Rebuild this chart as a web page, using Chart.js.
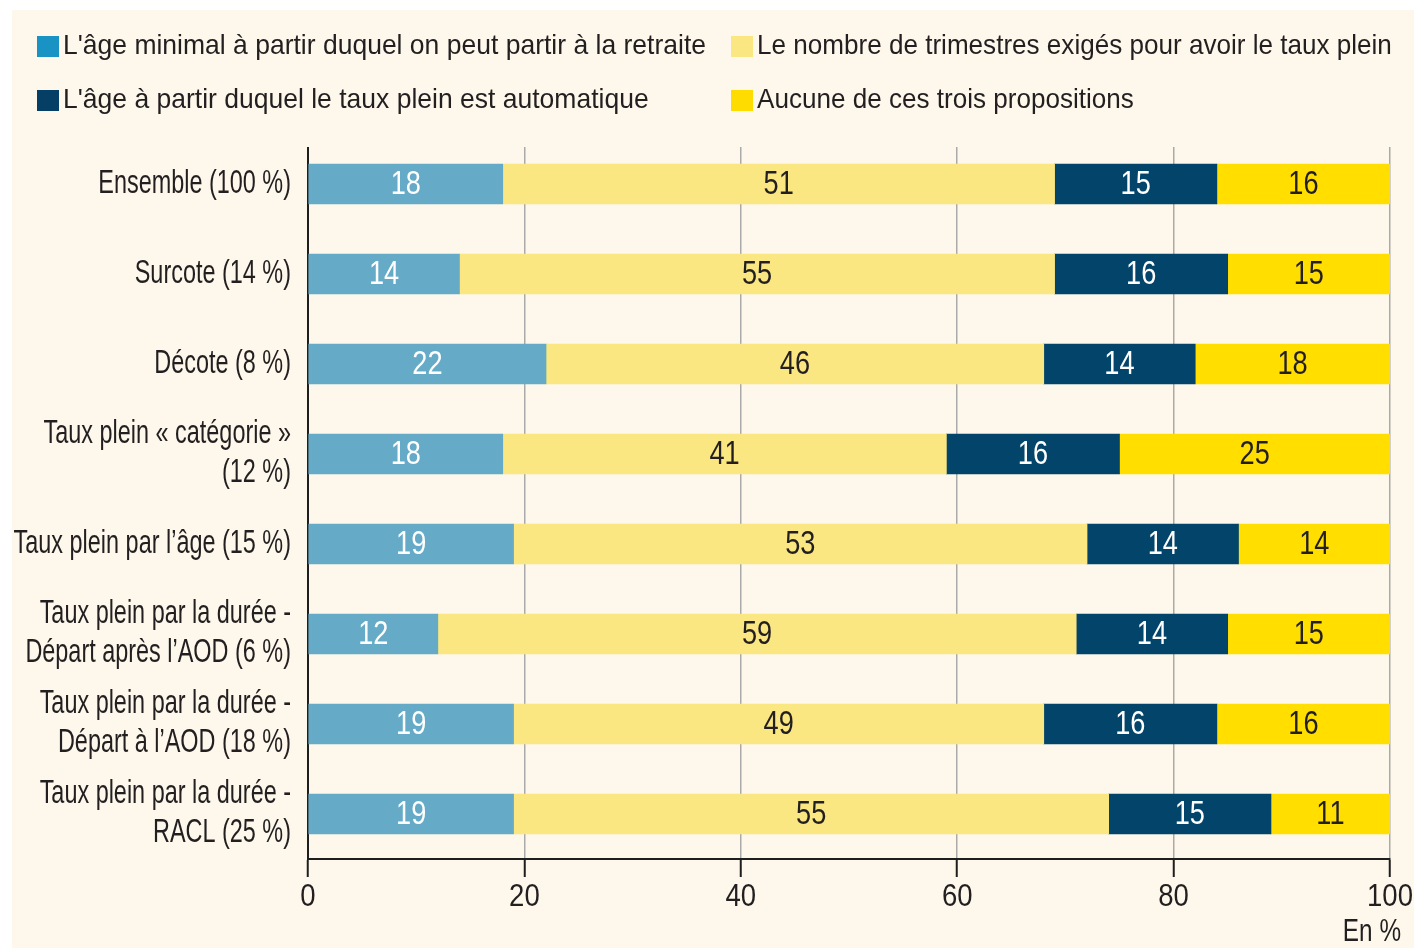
<!DOCTYPE html>
<html><head><meta charset="utf-8">
<script src="https://cdn.jsdelivr.net/npm/chart.js@4.4.1/dist/chart.umd.min.js"></script>
<style>html,body{margin:0;padding:0;background:#fff;}#wrap{width:1414px;height:948px;position:relative;}</style>
</head><body><div id="wrap"><canvas id="c" width="1414" height="948"></canvas></div>
<script>
const categories = [
  ["Ensemble (100 %)"],
  ["Surcote (14 %)"],
  ["Décote (8 %)"],
  ["Taux plein « catégorie »", "(12 %)"],
  ["Taux plein par l’âge (15 %)"],
  ["Taux plein par la durée -", "Départ après l’AOD (6 %)"],
  ["Taux plein par la durée -", "Départ à l’AOD (18 %)"],
  ["Taux plein par la durée -", "RACL (25 %)"]
];
const seriesNames = [
  "L'âge minimal à partir duquel on peut partir à la retraite",
  "Le nombre de trimestres exigés pour avoir le taux plein",
  "L'âge à partir duquel le taux plein est automatique",
  "Aucune de ces trois propositions"
];
const ageMinimal   = [18, 14, 22, 18, 19, 12, 19, 19];
const trimestres   = [51, 55, 46, 41, 53, 59, 49, 55];
const ageTauxPlein = [15, 16, 14, 16, 14, 14, 16, 15];
const aucune       = [16, 15, 18, 25, 14, 15, 16, 11];
const xTickValues  = [0, 20, 40, 60, 80, 100];
const axisUnit = "En %";

const FONT = "'Liberation Sans', Arial, Helvetica, sans-serif";
const TEXT_COLOR = '#231f20';
const BG = '#fdf8eb';
const barColors = ["#65aac7", "#fbe782", "#03446a", "#ffde00"];
const legendColors = ["#1893c3", "#fbe782", "#063f66", "#ffdc00"];
const labelColors = ["#ffffff", "#231f20", "#ffffff", "#231f20"];
const values = [ageMinimal, trimestres, ageTauxPlein, aucune];

function drawCondensed(ctx, text, x, y, align, sx) {
  ctx.save();
  ctx.translate(x, y);
  ctx.scale(sx, 1);
  ctx.textAlign = align;
  ctx.textBaseline = 'middle';
  ctx.fillText(text, 0, 0);
  ctx.restore();
}

const bgPlugin = {
  id: 'bg',
  beforeDraw(chart) {
    const ctx = chart.ctx;
    ctx.save();
    ctx.fillStyle = '#ffffff';
    ctx.fillRect(0, 0, chart.width, chart.height);
    ctx.fillStyle = BG;
    ctx.fillRect(12, 10, chart.width - 12, chart.height - 10);
    ctx.restore();
  },
  beforeDatasetsDraw(chart) {
    // grid and axis lines start slightly below the top of the category band
    const ctx = chart.ctx, a = chart.chartArea;
    ctx.save();
    ctx.fillStyle = BG;
    ctx.fillRect(a.left - 3, a.top - 2, a.right - a.left + 6, 10);
    ctx.restore();
  }
};

const axisLabelPlugin = {
  id: 'axisLabels',
  afterDraw(chart) {
    const ctx = chart.ctx;
    const ys = chart.scales.y, xs = chart.scales.x;
    ctx.save();
    ctx.beginPath();
    ctx.rect(12, 10, chart.width - 12, chart.height - 10);
    ctx.clip();
    ctx.fillStyle = TEXT_COLOR;
    ctx.font = "33px " + FONT;
    ys.getLabels().forEach((lines, i) => {
      const arr = Array.isArray(lines) ? lines : [lines];
      const cy = ys.getPixelForTick(i) - (arr.length > 1 ? 1 : 0);
      const lh = 39;
      arr.forEach((t, k) => {
        drawCondensed(ctx, t, 291, cy + (k - (arr.length - 1) / 2) * lh, 'right', 0.71);
      });
    });
    ctx.font = "32px " + FONT;
    xs.ticks.forEach(t => {
      drawCondensed(ctx, String(t.value), xs.getPixelForValue(t.value), 897, 'center', 0.86);
    });
    drawCondensed(ctx, axisUnit, 1401, 932, 'right', 0.76);
    ctx.restore();
  }
};

const legendPlugin = {
  id: 'customLegend',
  afterDraw(chart) {
    const ctx = chart.ctx;
    ctx.save();
    ctx.font = "28.5px " + FONT;
    const cols = [37, 731];
    const rows = [46.5, 100.5];
    chart.data.datasets.forEach((ds, i) => {
      const x = cols[i % 2], y = rows[Math.floor(i / 2)];
      ctx.fillStyle = legendColors[i];
      ctx.fillRect(x, y - 10.5, 22, 21);
      ctx.fillStyle = TEXT_COLOR;
      drawCondensed(ctx, ds.label, x + 26, y, 'left', i % 2 ? 0.915 : 0.93);
    });
    ctx.restore();
  }
};

const barLabelPlugin = {
  id: 'barLabels',
  afterDatasetsDraw(chart) {
    const ctx = chart.ctx;
    ctx.save();
    ctx.font = "34px " + FONT;
    chart.data.datasets.forEach((ds, di) => {
      const meta = chart.getDatasetMeta(di);
      meta.data.forEach((el, i) => {
        const cx = (el.x + el.base) / 2;
        ctx.fillStyle = labelColors[di];
        drawCondensed(ctx, String(ds.data[i]), cx, el.y + 1, 'center', 0.8);
      });
    });
    ctx.restore();
  }
};

new Chart(document.getElementById('c'), {
  type: 'bar',
  data: {
    labels: categories,
    datasets: values.map((v, i) => ({
      label: seriesNames[i],
      data: v,
      backgroundColor: barColors[i],
      borderWidth: 0,
      barThickness: 40
    }))
  },
  options: {
    indexAxis: 'y',
    responsive: false,
    animation: false,
    layout: { padding: { top: 139, right: 24, bottom: 0, left: 0 } },
    plugins: { legend: { display: false }, tooltip: { enabled: false } },
    scales: {
      x: {
        type: 'linear', stacked: true, min: 0, max: 100,
        afterBuildTicks(scale) { scale.ticks = xTickValues.map(v => ({ value: v })); },
        afterFit(scale) { scale.height = 89; },
        grid: {
          color: (c) => (c.tick && c.tick.value === 0) ? 'rgba(0,0,0,0)' : '#a9a9a9',
          lineWidth: 1.5,
          tickColor: '#1e1e1e',
          tickWidth: 2,
          tickLength: 18
        },
        border: { display: true, color: '#1e1e1e', width: 2 },
        ticks: { display: false }
      },
      y: {
        stacked: true,
        afterFit(scale) { scale.width = 308; },
        grid: { display: false },
        border: { display: true, color: '#1e1e1e', width: 2 },
        ticks: { display: false, autoSkip: false }
      }
    }
  },
  plugins: [bgPlugin, barLabelPlugin, axisLabelPlugin, legendPlugin]
});
</script></body></html>
